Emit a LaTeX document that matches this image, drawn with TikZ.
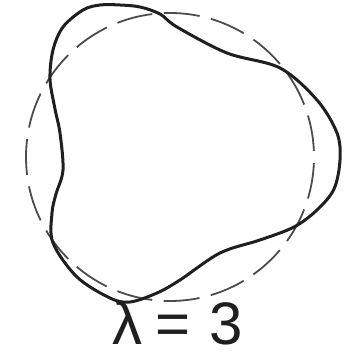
\documentclass[tikz,border=0pt]{standalone}
\usepackage{fontspec}
\setmainfont{Liberation Sans}
\begin{document}
\begin{tikzpicture}[x=1pt,y=1pt,
  refcircle/.style={draw=black!70, line width=1.8pt, dash pattern=on 36pt off 11.6pt, dash phase=41.6pt},
  mode/.style={draw=black!88, line width=3pt, line join=round},
  lbl/.style={font=\fontsize{60}{62}\selectfont, text=black!88, inner sep=0pt, anchor=base}]
\useasboundingbox (0,0) rectangle (357,359);
\coordinate (c) at (170,202);
\draw[refcircle] (c) circle (144);
\draw[mode] plot[smooth cycle, tension=0.55] coordinates {
  (340,199) (337,226) (317,259) (280,291) (227,306) (177,332) (160,345)
  (140,352) (120,354) (100,354) (83,349) (63,332) (53,309) (50,280)
  (55,250) (60,226) (63,189) (56,165) (52,146) (53,116) (77,82) (110,61)
  (130,57) (157,66) (180,79) (220,106) (260,119) (294,132) (317,149) (334,170)};
\node[lbl] (t) at (178,14) {λ\hspace{13pt}=\hspace{19pt}3};
\end{tikzpicture}
\end{document}
